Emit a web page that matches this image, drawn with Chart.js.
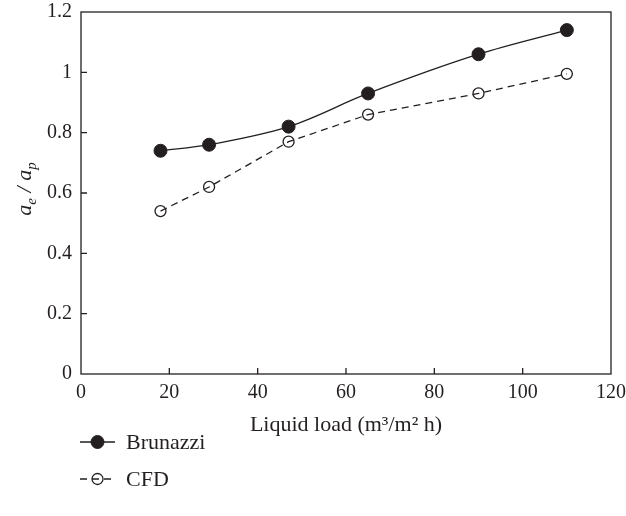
<!DOCTYPE html>
<html lang="en">
<head>
    <meta charset="UTF-8">
    <title>Liquid load vs effective area</title>
    <style>
        body { margin: 0; background: #fff; }
        #wrap { width: 626px; height: 516px; position: relative; }
    </style>
</head>
<body>
    <div id="wrap"><canvas id="chart"></canvas></div>
    <script src="https://cdn.jsdelivr.net/npm/chart.js"></script>
    <script>
        // values
        const loads = [18, 29, 47, 65, 90, 110];
        const brunazzi = [0.74, 0.76, 0.82, 0.93, 1.06, 1.14];
        const cfd = [0.54, 0.62, 0.77, 0.86, 0.93, 0.995];
        const xTicks = [0, 20, 40, 60, 80, 100, 120];
        const yTicks = [0, 0.2, 0.4, 0.6, 0.8, 1, 1.2];

        const ink = '#231f20';
        const serif = '"Liberation Serif", "Times New Roman", serif';

        const toPoints = (xs, ys) => xs.map((x, i) => ({ x: x, y: ys[i] }));

        // box, inward ticks, axis titles and legend
        const decor = {
            id: 'decor',
            afterDraw(chart) {
                const ctx = chart.ctx;
                const a = chart.chartArea;
                const xs = chart.scales.x, ys = chart.scales.y;
                ctx.save();
                ctx.strokeStyle = ink;
                ctx.lineWidth = 1.3;
                ctx.strokeRect(a.left, a.top, a.right - a.left, a.bottom - a.top);
                ctx.beginPath();
                xTicks.slice(1, -1).forEach(v => {
                    const px = xs.getPixelForValue(v);
                    ctx.moveTo(px, a.bottom);
                    ctx.lineTo(px, a.bottom - 6);
                });
                yTicks.slice(1, -1).forEach(v => {
                    const py = ys.getPixelForValue(v);
                    ctx.moveTo(a.left, py);
                    ctx.lineTo(a.left + 6, py);
                });
                ctx.stroke();

                ctx.fillStyle = ink;
                // x title
                ctx.font = '22px ' + serif;
                ctx.textAlign = 'center';
                ctx.textBaseline = 'alphabetic';
                ctx.fillText('Liquid load (m\u00b3/m\u00b2 h)', (a.left + a.right) / 2, 431);

                // y title: a_e / a_p
                ctx.translate(31, (a.top + a.bottom) / 2 - 4);
                ctx.rotate(-Math.PI / 2);
                const big = 'italic 22px ' + serif;
                const small = 'italic 15px ' + serif;
                const parts = [
                    [big, 'a', 0], [small, 'e', 5], [big, ' / ', 0], [big, 'a', 0], [small, 'p', 5]
                ];
                let w = 0;
                parts.forEach(p => { ctx.font = p[0]; w += ctx.measureText(p[1]).width; });
                let cx = -w / 2;
                ctx.textAlign = 'left';
                parts.forEach(p => {
                    ctx.font = p[0];
                    ctx.fillText(p[1], cx, p[2]);
                    cx += ctx.measureText(p[1]).width;
                });
                ctx.restore();

                // legend
                const rows = [442, 479];
                chart.data.datasets.forEach((ds, i) => {
                    const y = rows[i];
                    ctx.save();
                    ctx.strokeStyle = ink;
                    ctx.lineWidth = ds.borderWidth;
                    ctx.setLineDash(ds.borderDash || []);
                    ctx.beginPath();
                    ctx.moveTo(80, y);
                    ctx.lineTo(115, y);
                    ctx.stroke();
                    ctx.setLineDash([]);
                    ctx.lineWidth = ds.pointBorderWidth;
                    ctx.beginPath();
                    ctx.arc(97.5, y, ds.pointRadius, 0, Math.PI * 2);
                    if (ds.pointBackgroundColor !== 'transparent') {
                        ctx.fillStyle = ds.pointBackgroundColor;
                        ctx.fill();
                    }
                    ctx.strokeStyle = ink;
                    ctx.stroke();
                    ctx.fillStyle = ink;
                    ctx.font = '22px ' + serif;
                    ctx.textBaseline = 'middle';
                    ctx.fillText(ds.label, 126, y + 1);
                    ctx.restore();
                });
            }
        };

        new Chart(document.getElementById('chart'), {
            type: 'line',
            data: {
                datasets: [
                    {
                        label: 'Brunazzi',
                        data: toPoints(loads, brunazzi),
                        borderColor: ink,
                        borderWidth: 1.3,
                        tension: 0.35,
                        pointRadius: 6.5,
                        pointBorderWidth: 1,
                        pointBackgroundColor: ink,
                        pointBorderColor: ink
                    },
                    {
                        label: 'CFD',
                        data: toPoints(loads, cfd),
                        borderColor: ink,
                        borderWidth: 1.3,
                        borderDash: [7, 5],
                        tension: 0,
                        pointRadius: 5.5,
                        pointBorderWidth: 1.3,
                        pointBackgroundColor: 'transparent',
                        pointBorderColor: ink
                    }
                ]
            },
            options: {
                responsive: true,
                maintainAspectRatio: false,
                animation: false,
                layout: { padding: { top: 12, right: 15, left: 0, bottom: 0 } },
                plugins: {
                    legend: { display: false },
                    tooltip: { enabled: false }
                },
                scales: {
                    x: {
                        type: 'linear',
                        min: 0,
                        max: 120,
                        afterBuildTicks: s => { s.ticks = xTicks.map(v => ({ value: v })); },
                        afterFit: s => {
                            s.height = 142;
                            s.paddingLeft = 0;
                            s.paddingRight = 0;
                        },
                        grid: { display: false, drawTicks: false },
                        border: { display: false },
                        ticks: {
                            color: ink,
                            padding: 7,
                            font: { family: serif, size: 20 }
                        }
                    },
                    y: {
                        min: 0,
                        max: 1.2,
                        afterBuildTicks: s => { s.ticks = yTicks.map(v => ({ value: v })); },
                        afterFit: s => {
                            s.width = 81;
                            s.paddingTop = 0;
                            s.paddingBottom = 0;
                        },
                        grid: { display: false, drawTicks: false },
                        border: { display: false },
                        ticks: {
                            color: ink,
                            padding: 9,
                            font: { family: serif, size: 20 },
                            callback: v => String(Math.round(v * 10) / 10)
                        }
                    }
                }
            },
            plugins: [decor]
        });
    </script>
</body>
</html>
